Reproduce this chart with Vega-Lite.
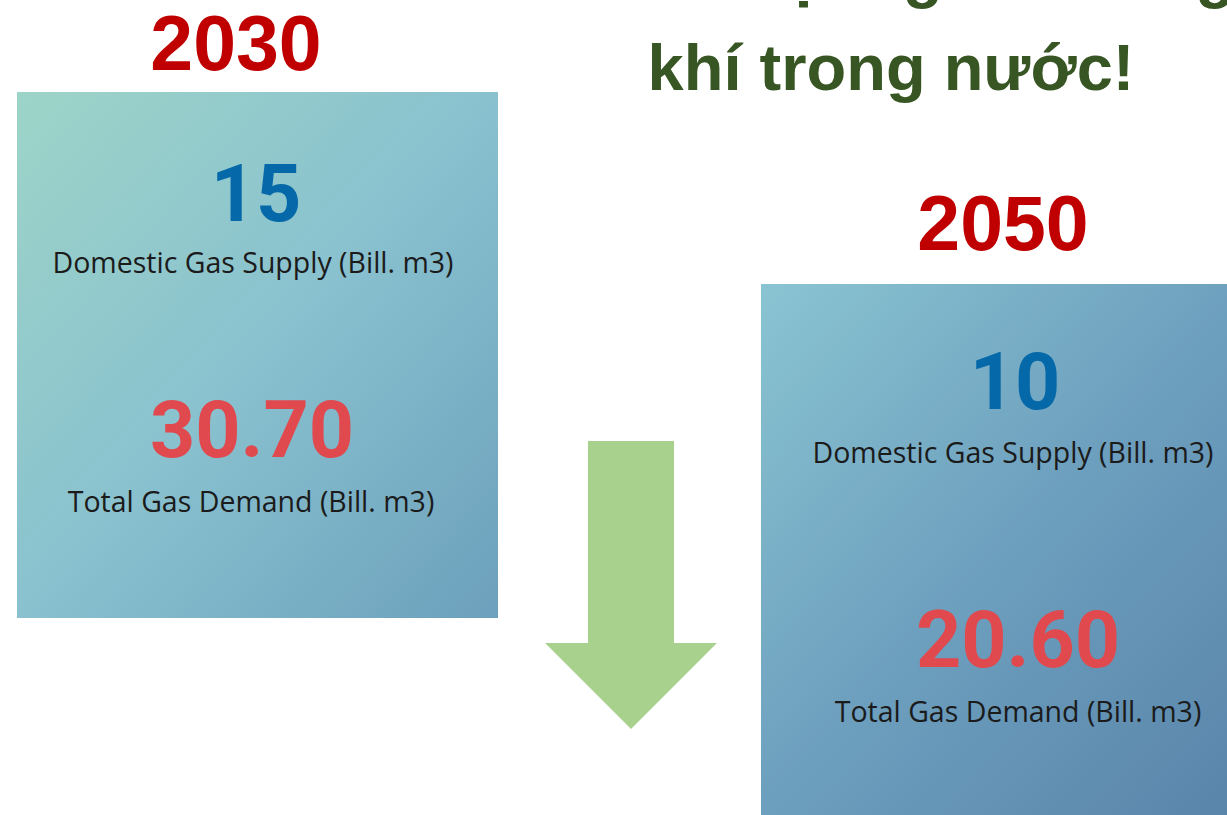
{
  "$schema": "https://vega.github.io/schema/vega-lite/v6.json",
  "width": 1227,
  "height": 815,
  "padding": 0,
  "autosize": {"type": "none"},
  "background": "white",
  "config": {"view": {"stroke": null}},
  "datasets": {
    "cards": [
      {"year": 2030, "supply": 15, "demand": 30.7},
      {"year": 2050, "supply": 10, "demand": 20.6}
    ],
    "headline": [
      {"line": 1, "text": "Thiếu hụt nguồn cung"},
      {"line": 2, "text": "khí trong nước!"}
    ],
    "trend": [
      {"from": 2030, "to": 2050, "step": 2040}
    ]
  },
  "layer": [
    {
      "data": {"name": "cards"},
      "transform": [{"filter": "datum.year == 2030"}],
      "mark": {
        "type": "rect", "width": 481, "height": 526,
        "fill": {"gradient": "linear", "x1": 0, "y1": 0, "x2": 1, "y2": 1,
          "stops": [{"offset": 0, "color": "#9dd4c8"}, {"offset": 0.5, "color": "#89c1cf"}, {"offset": 1, "color": "#6ca0bc"}]}
      },
      "encoding": {
        "x": {"field": "year", "type": "quantitative", "scale": {"domain": [2030, 2050], "range": [257.5, 1017], "nice": false, "zero": false}, "axis": null},
        "y": {"field": "year", "type": "quantitative", "scale": {"domain": [2030, 2050], "range": [355, 554], "nice": false, "zero": false}, "axis": null}
      }
    },
    {
      "data": {"name": "cards"},
      "transform": [{"filter": "datum.year == 2050"}],
      "mark": {
        "type": "rect", "width": 512, "height": 540,
        "fill": {"gradient": "linear", "x1": 0, "y1": 0, "x2": 1, "y2": 1,
          "stops": [{"offset": 0, "color": "#8ac4d2"}, {"offset": 0.5, "color": "#6c9ebd"}, {"offset": 1, "color": "#5782a8"}]}
      },
      "encoding": {
        "x": {"field": "year", "type": "quantitative", "scale": {"domain": [2030, 2050], "range": [257.5, 1017], "nice": false, "zero": false}, "axis": null},
        "y": {"field": "year", "type": "quantitative", "scale": {"domain": [2030, 2050], "range": [355, 554], "nice": false, "zero": false}, "axis": null}
      }
    },
    {
      "data": {"name": "trend"},
      "mark": {"type": "point", "filled": true, "opacity": 1, "color": "#a9d18e", "strokeWidth": 0,
        "shape": "M-0.299,-1 L0.299,-1 L0.299,0.403 L0.597,0.403 L0,1 L-0.597,0.403 L-0.299,0.403 Z", "size": 82944},
      "encoding": {
        "x": {"field": "step", "type": "quantitative", "scale": {"domain": [2030, 2050], "range": [245, 1017], "nice": false, "zero": false}, "axis": null},
        "y": {"field": "step", "type": "quantitative", "scale": {"domain": [2030, 2050], "range": [355, 815], "nice": false, "zero": false}, "axis": null}
      }
    },
    {
      "data": {"name": "headline"},
      "mark": {"type": "text", "font": "Liberation Sans", "fontWeight": "bold", "fontSize": 65, "color": "#375623", "align": "center", "baseline": "alphabetic"},
      "encoding": {
        "x": {"field": "line", "type": "quantitative", "scale": {"domain": [1, 2], "range": [894, 891], "nice": false, "zero": false}, "axis": null},
        "y": {"field": "line", "type": "quantitative", "scale": {"domain": [1, 2], "range": [-4, 90], "nice": false, "zero": false}, "axis": null},
        "text": {"field": "text", "type": "nominal"}
      }
    },
    {
      "data": {"name": "cards"},
      "mark": {"type": "text", "font": "Liberation Sans", "fontWeight": "bold", "fontSize": 77, "color": "#c00000", "align": "center", "baseline": "alphabetic"},
      "encoding": {
        "x": {"field": "year", "type": "quantitative", "scale": {"domain": [2030, 2050], "range": [236, 1003], "nice": false, "zero": false}, "axis": null},
        "y": {"field": "year", "type": "quantitative", "scale": {"domain": [2030, 2050], "range": [70, 250], "nice": false, "zero": false}, "axis": null},
        "text": {"field": "year", "type": "quantitative", "format": "d"}
      }
    },
    {
      "data": {"name": "cards"},
      "mark": {"type": "text", "font": "Roboto", "fontWeight": "bold", "fontSize": 79, "color": "#0569a9", "align": "center", "baseline": "alphabetic"},
      "encoding": {
        "x": {"field": "year", "type": "quantitative", "scale": {"domain": [2030, 2050], "range": [256, 1015], "nice": false, "zero": false}, "axis": null},
        "y": {"field": "year", "type": "quantitative", "scale": {"domain": [2030, 2050], "range": [221, 409], "nice": false, "zero": false}, "axis": null},
        "text": {"field": "supply", "type": "quantitative", "format": "d"}
      }
    },
    {
      "data": {"name": "cards"},
      "mark": {"type": "text", "font": "Open Sans", "fontSize": 28.5, "color": "#1b1b1b", "align": "center", "baseline": "alphabetic", "text": "Domestic Gas Supply (Bill. m3)"},
      "encoding": {
        "x": {"field": "year", "type": "quantitative", "scale": {"domain": [2030, 2050], "range": [253, 1013], "nice": false, "zero": false}, "axis": null},
        "y": {"field": "year", "type": "quantitative", "scale": {"domain": [2030, 2050], "range": [273, 463], "nice": false, "zero": false}, "axis": null}
      }
    },
    {
      "data": {"name": "cards"},
      "mark": {"type": "text", "font": "Roboto", "fontWeight": "bold", "fontSize": 79, "color": "#e04a4f", "align": "center", "baseline": "alphabetic"},
      "encoding": {
        "x": {"field": "year", "type": "quantitative", "scale": {"domain": [2030, 2050], "range": [252, 1018], "nice": false, "zero": false}, "axis": null},
        "y": {"field": "year", "type": "quantitative", "scale": {"domain": [2030, 2050], "range": [457, 667], "nice": false, "zero": false}, "axis": null},
        "text": {"field": "demand", "type": "quantitative", "format": ".2f"}
      }
    },
    {
      "data": {"name": "cards"},
      "mark": {"type": "text", "font": "Open Sans", "fontSize": 28.5, "color": "#1b1b1b", "align": "center", "baseline": "alphabetic", "text": "Total Gas Demand (Bill. m3)"},
      "encoding": {
        "x": {"field": "year", "type": "quantitative", "scale": {"domain": [2030, 2050], "range": [251, 1018], "nice": false, "zero": false}, "axis": null},
        "y": {"field": "year", "type": "quantitative", "scale": {"domain": [2030, 2050], "range": [512, 722], "nice": false, "zero": false}, "axis": null}
      }
    }
  ],
  "resolve": {"scale": {"x": "independent", "y": "independent"}}
}
